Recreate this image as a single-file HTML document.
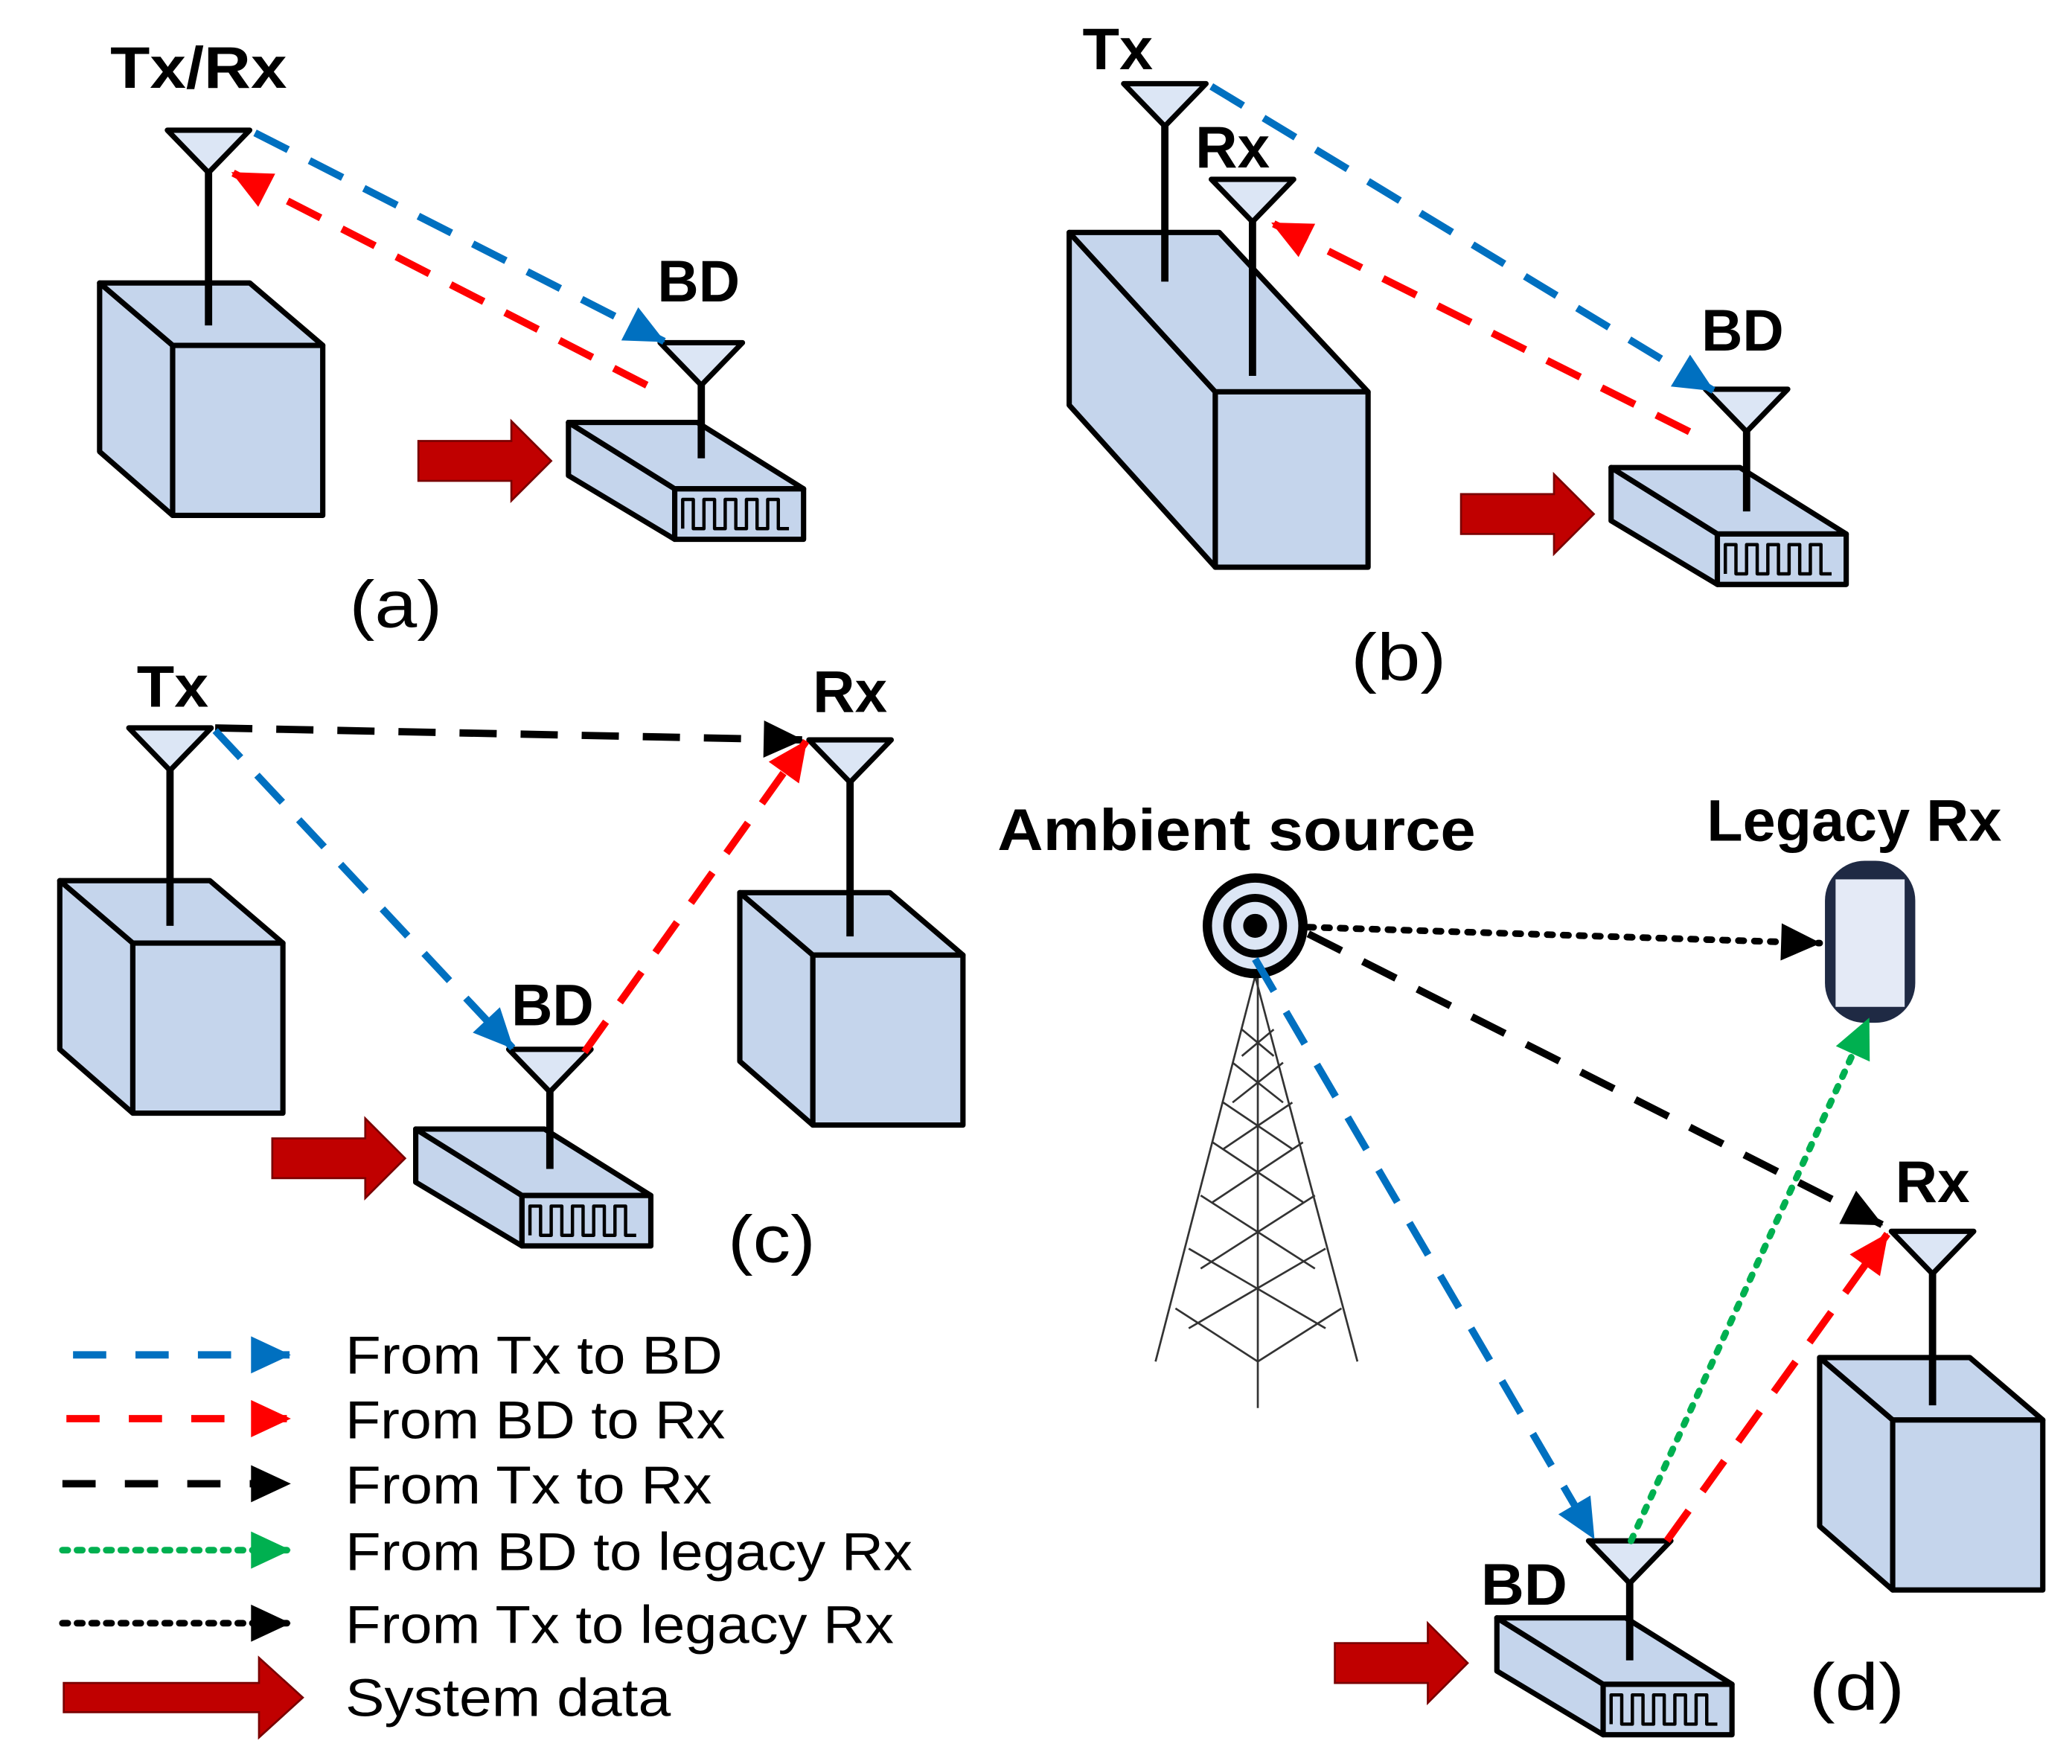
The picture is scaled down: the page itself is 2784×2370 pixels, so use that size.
<!DOCTYPE html>
<html><head><meta charset="utf-8"><style>html,body{margin:0;padding:0;background:#fff}svg{display:block}</style></head>
<body>
<svg width="2784" height="2370" viewBox="0 0 1560 1328" xmlns="http://www.w3.org/2000/svg" font-family="'Liberation Sans',sans-serif">
<defs>
<marker id="mb" viewBox="0 0 8 8" refX="7" refY="4" markerWidth="8" markerHeight="8" orient="auto" markerUnits="userSpaceOnUse" style="overflow:visible"><path d="M-22,-10 L8,4 L-22,18 z" fill="#0070C0"/></marker>
<marker id="mr" viewBox="0 0 8 8" refX="7" refY="4" markerWidth="8" markerHeight="8" orient="auto" markerUnits="userSpaceOnUse" style="overflow:visible"><path d="M-22,-10 L8,4 L-22,18 z" fill="#FF0000"/></marker>
<marker id="mk" viewBox="0 0 8 8" refX="7" refY="4" markerWidth="8" markerHeight="8" orient="auto" markerUnits="userSpaceOnUse" style="overflow:visible"><path d="M-22,-10 L8,4 L-22,18 z" fill="#000"/></marker>
<marker id="mg" viewBox="0 0 8 8" refX="7" refY="4" markerWidth="8" markerHeight="8" orient="auto" markerUnits="userSpaceOnUse" style="overflow:visible"><path d="M-22,-10 L8,4 L-22,18 z" fill="#00B050"/></marker>
<g id="cube" stroke="#000" stroke-width="4" fill="#C5D5EC" stroke-linejoin="round">
<polygon points="0,0 55,47 55,175 0,127"/>
<polygon points="0,0 113,0 168,47 55,47"/>
<rect x="55" y="47" width="113" height="128"/>
</g>
<g id="bd" stroke="#000" stroke-width="4" fill="#C5D5EC" stroke-linejoin="round">
<polygon points="0,0 80,50 80,88 0,40"/>
<polygon points="0,0 97,0 177,50 80,50"/>
<rect x="80" y="50" width="97" height="38"/>
<path d="M86,80 v-22 h8 v22 h8 v-22 h8 v22 h8 v-22 h8 v22 h8 v-22 h8 v22 h8 v-22 h8 v22 h8" fill="none" stroke-width="2.5"/>
</g>
<g id="ant" stroke="#000" stroke-width="4" stroke-linejoin="round">
<polygon points="-31,0 31,0 0,32" fill="#DCE6F5"/>
</g>
<g id="ra"><polygon points="0,12 70,12 70,-3 100,27 70,57 70,42 0,42" fill="#C00000" stroke="#7a0000" stroke-width="1.5"/></g>
</defs>

<g fill="none" stroke-width="5.5">
<use href="#cube" x="75" y="213"/>
<line x1="157" y1="130" x2="157" y2="245" stroke="#000"/>
<use href="#ant" x="157" y="98"/>
<use href="#bd" x="428" y="318"/>
<line x1="528" y1="280" x2="528" y2="345" stroke="#000"/>
<use href="#ant" x="528" y="258"/>
<use href="#ra" x="315" y="320"/>
<line x1="192" y1="100" x2="500" y2="257" stroke="#0070C0" stroke-dasharray="28,18" marker-end="url(#mb)"/>
<line x1="487" y1="290" x2="175" y2="130" stroke="#FF0000" stroke-dasharray="28,18" marker-end="url(#mr)"/>

<g stroke="#000" stroke-width="4" fill="#C5D5EC" stroke-linejoin="round">
<polygon points="805,175 915,295 915,427 805,305"/>
<polygon points="805,175 918,175 1030,295 915,295"/>
<rect x="915" y="295" width="115" height="132"/>
</g>
<line x1="877" y1="95" x2="877" y2="212" stroke="#000"/>
<use href="#ant" x="877" y="63"/>
<line x1="943" y1="165" x2="943" y2="283" stroke="#000"/>
<use href="#ant" x="943" y="135"/>
<use href="#bd" x="1213" y="352"/>
<line x1="1315" y1="315" x2="1315" y2="385" stroke="#000"/>
<use href="#ant" x="1315" y="293"/>
<use href="#ra" x="1100" y="360"/>
<line x1="912" y1="65" x2="1290" y2="294" stroke="#0070C0" stroke-dasharray="28,18" marker-end="url(#mb)"/>
<line x1="1272" y1="325" x2="958" y2="168" stroke="#FF0000" stroke-dasharray="28,18" marker-end="url(#mr)"/>

<use href="#cube" x="45" y="663"/>
<line x1="128" y1="580" x2="128" y2="697" stroke="#000"/>
<use href="#ant" x="128" y="548"/>
<use href="#cube" x="557" y="672"/>
<line x1="640" y1="588" x2="640" y2="705" stroke="#000"/>
<use href="#ant" x="640" y="557"/>
<use href="#bd" x="313" y="850"/>
<line x1="414" y1="812" x2="414" y2="880" stroke="#000"/>
<use href="#ant" x="414" y="790"/>
<use href="#ra" x="205" y="845"/>
<line x1="162" y1="548" x2="604" y2="557" stroke="#000" stroke-dasharray="28,18" marker-end="url(#mk)"/>
<line x1="162" y1="550" x2="386" y2="789" stroke="#0070C0" stroke-dasharray="28,18" marker-end="url(#mb)"/>
<line x1="440" y1="792" x2="607" y2="558" stroke="#FF0000" stroke-dasharray="28,18" marker-end="url(#mr)"/>

<g stroke="#333" stroke-width="1.5">
<line x1="945" y1="735" x2="870" y2="1025"/><line x1="945" y1="735" x2="1022" y2="1025"/>
<line x1="947" y1="735" x2="947" y2="1060"/>
<path d="M935,775 L959,795 M959,775 L935,795 M928,800 L966,830 M966,800 L928,830 M921,830 L973,865 M973,830 L921,865 M913,860 L981,905 M981,860 L913,905 M904,900 L990,955 M990,900 L904,955 M895,940 L998,1000 M998,940 L895,1000 M885,985 L947,1025 L1010,985"/>
</g>
<circle cx="945" cy="697" r="36" fill="#DCE6F5" stroke="#000" stroke-width="7"/>
<circle cx="945" cy="697" r="21" fill="none" stroke="#000" stroke-width="6"/>
<circle cx="945" cy="697" r="9" fill="#000" stroke="none"/>
<rect x="1374" y="648" width="68" height="122" rx="30" fill="#1F2A44" stroke="none"/>
<rect x="1382" y="662" width="52" height="96" fill="#E4EAF6" stroke="none"/>
<use href="#cube" x="1370" y="1022"/>
<line x1="1455" y1="958" x2="1455" y2="1058" stroke="#000"/>
<use href="#ant" x="1455" y="927"/>
<use href="#bd" x="1127" y="1218"/>
<line x1="1227" y1="1182" x2="1227" y2="1250" stroke="#000"/>
<use href="#ant" x="1227" y="1160"/>
<use href="#ra" x="1005" y="1225"/>
<line x1="985" y1="698" x2="1370" y2="710" stroke="#000" stroke-width="5" stroke-dasharray="4,8" stroke-linecap="round" marker-end="url(#mk)"/>
<line x1="985" y1="703" x2="1417" y2="922" stroke="#000" stroke-dasharray="28,18" marker-end="url(#mk)"/>
<line x1="945" y1="722" x2="1200" y2="1158" stroke="#0070C0" stroke-dasharray="28,18" marker-end="url(#mb)"/>
<line x1="1228" y1="1160" x2="1407" y2="767" stroke="#00B050" stroke-width="5" stroke-dasharray="4,8" stroke-linecap="round" marker-end="url(#mg)"/>
<line x1="1255" y1="1160" x2="1421" y2="929" stroke="#FF0000" stroke-dasharray="28,18" marker-end="url(#mr)"/>

<line x1="55" y1="1020" x2="218" y2="1020" stroke="#0070C0" stroke-dasharray="25,22" marker-end="url(#mb)"/>
<line x1="50" y1="1068" x2="218" y2="1068" stroke="#FF0000" stroke-dasharray="25,22" marker-end="url(#mr)"/>
<line x1="47" y1="1117" x2="218" y2="1117" stroke="#000" stroke-dasharray="25,22" marker-end="url(#mk)"/>
<line x1="47" y1="1167" x2="218" y2="1167" stroke="#00B050" stroke-width="5" stroke-dasharray="4,7" stroke-linecap="round" marker-end="url(#mg)"/>
<line x1="47" y1="1222" x2="218" y2="1222" stroke="#000" stroke-width="5" stroke-dasharray="4,7" stroke-linecap="round" marker-end="url(#mk)"/>
<polygon points="48,1267 195,1267 195,1248 228,1278 195,1308 195,1289 48,1289" fill="#C00000" stroke="#7a0000" stroke-width="1.5"/>
</g>

<g font-weight="bold" font-size="44" fill="#000">
<text x="83" y="66" textLength="133" lengthAdjust="spacingAndGlyphs">Tx/Rx</text>
<text x="495" y="227" textLength="62" lengthAdjust="spacingAndGlyphs">BD</text>
<text x="815" y="52" textLength="53" lengthAdjust="spacingAndGlyphs">Tx</text>
<text x="900" y="126" textLength="56" lengthAdjust="spacingAndGlyphs">Rx</text>
<text x="1281" y="264" textLength="62" lengthAdjust="spacingAndGlyphs">BD</text>
<text x="103" y="532" textLength="54" lengthAdjust="spacingAndGlyphs">Tx</text>
<text x="612" y="536" textLength="56" lengthAdjust="spacingAndGlyphs">Rx</text>
<text x="385" y="772" textLength="62" lengthAdjust="spacingAndGlyphs">BD</text>
<text x="751" y="640" textLength="360" lengthAdjust="spacingAndGlyphs">Ambient source</text>
<text x="1285" y="633" textLength="222" lengthAdjust="spacingAndGlyphs">Legacy Rx</text>
<text x="1427" y="905" textLength="56" lengthAdjust="spacingAndGlyphs">Rx</text>
<text x="1115" y="1208" textLength="65" lengthAdjust="spacingAndGlyphs">BD</text>
</g>
<g font-size="50" fill="#000">
<text x="263" y="472" textLength="70" lengthAdjust="spacingAndGlyphs">(a)</text>
<text x="1017" y="512" textLength="72" lengthAdjust="spacingAndGlyphs">(b)</text>
<text x="548" y="950" textLength="66" lengthAdjust="spacingAndGlyphs">(c)</text>
<text x="1362" y="1287" textLength="72" lengthAdjust="spacingAndGlyphs">(d)</text>
</g>
<g font-size="40" fill="#000">
<text x="260" y="1034" textLength="284" lengthAdjust="spacingAndGlyphs">From Tx to BD</text>
<text x="260" y="1083" textLength="286" lengthAdjust="spacingAndGlyphs">From BD to Rx</text>
<text x="260" y="1132" textLength="276" lengthAdjust="spacingAndGlyphs">From Tx to Rx</text>
<text x="260" y="1182" textLength="427" lengthAdjust="spacingAndGlyphs">From BD to legacy Rx</text>
<text x="260" y="1237" textLength="413" lengthAdjust="spacingAndGlyphs">From Tx to legacy Rx</text>
<text x="260" y="1292" textLength="245" lengthAdjust="spacingAndGlyphs">System data</text>
</g>
</svg>
</body></html>
